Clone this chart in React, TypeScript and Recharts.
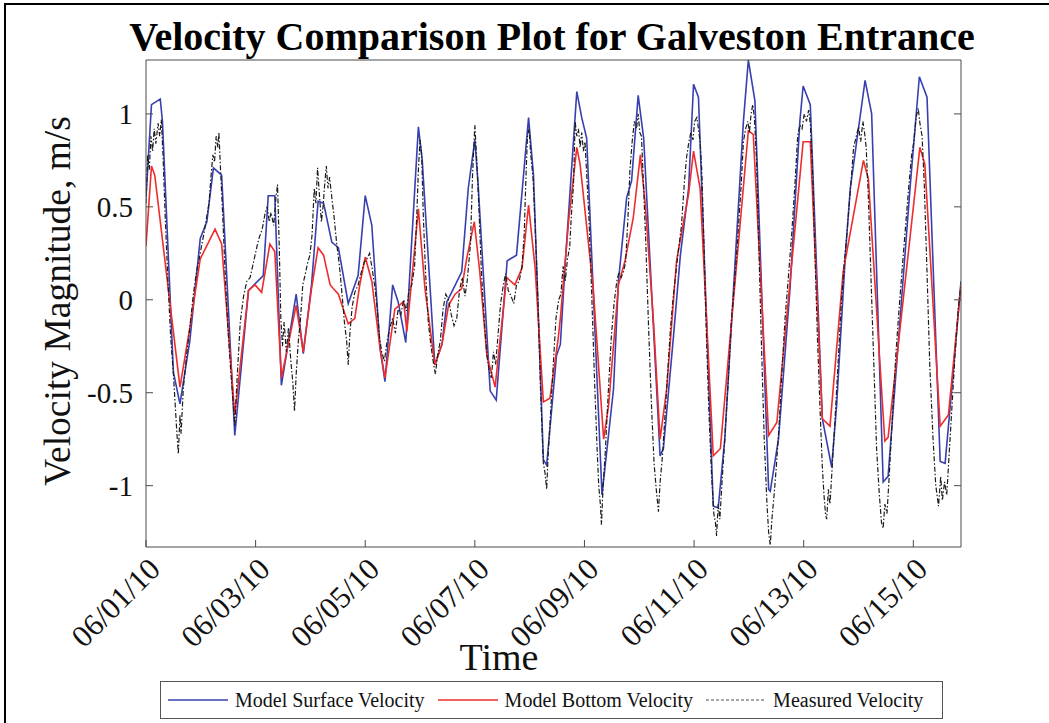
import React from 'react';
import { LineChart, Line, XAxis, YAxis, Legend } from 'recharts';

// time axis: days since 06/01/10 00:00
const dayTicks = [0, 2, 4, 6, 8, 10, 12, 14];
const dayTickLabels = ['06/01/10', '06/03/10', '06/05/10', '06/07/10', '06/09/10', '06/11/10', '06/13/10', '06/15/10'];
const velocityTicks = [-1, -0.5, 0, 0.5, 1];
const velocityTickLabels = ['-1', '-0.5', '0', '0.5', '1'];

const seriesNames = ['Model Surface Velocity', 'Model Bottom Velocity', 'Measured Velocity'];

// [day, m/s]
const surfaceVelocity: [number, number][] = [
  [0, 0.55], [0.1, 1.05], [0.26, 1.08], [0.3, 0.96], [0.5, -0.39], [0.62, -0.56], [0.8, -0.22],
  [0.99, 0.33], [1.11, 0.42], [1.23, 0.71], [1.38, 0.67], [1.62, -0.73], [1.87, 0.05], [2.14, 0.13],
  [2.23, 0.56], [2.35, 0.56], [2.47, -0.46], [2.74, 0.03], [2.87, -0.29], [3.02, 0.08], [3.14, 0.53],
  [3.24, 0.52], [3.39, 0.31], [3.51, 0.28], [3.69, -0.02], [3.87, 0.13], [4.0, 0.56], [4.12, 0.4],
  [4.27, -0.26], [4.36, -0.44], [4.5, 0.08], [4.6, -0.01], [4.74, -0.23], [4.97, 0.93], [5.04, 0.75],
  [5.27, -0.35], [5.4, -0.24], [5.49, -0.01], [5.61, 0.06], [5.76, 0.15], [5.88, 0.6], [6.0, 0.86],
  [6.06, 0.62], [6.28, -0.49], [6.39, -0.54], [6.59, 0.21], [6.76, 0.24], [6.98, 0.98], [7.07, 0.67],
  [7.25, -0.86], [7.31, -0.89], [7.49, -0.3], [7.56, -0.24], [7.65, 0.2], [7.86, 1.12], [7.95, 0.98],
  [8.04, 0.87], [8.32, -1.05], [8.53, -0.48], [8.62, 0.1], [8.77, 0.55], [8.86, 0.64], [8.98, 1.1],
  [9.08, 0.87], [9.38, -0.84], [9.44, -0.8], [9.62, -0.21], [9.75, 0.24], [9.9, 0.6], [9.99, 1.16],
  [10.08, 1.09], [10.35, -1.11], [10.44, -1.12], [10.56, -0.75], [10.72, 0.06], [10.9, 0.96],
  [10.99, 1.29], [11.11, 1.07], [11.36, -1.02], [11.39, -1.03], [11.54, -0.75], [11.75, 0.06],
  [11.93, 0.96], [11.99, 1.15], [12.12, 1.05], [12.34, -0.64], [12.51, -0.9], [12.6, -0.57],
  [12.76, 0.24], [12.85, 0.6], [13.12, 1.18], [13.24, 1.0], [13.45, -0.98], [13.54, -0.95],
  [13.94, 0.6], [14.11, 1.2], [14.25, 1.09], [14.49, -0.87], [14.58, -0.88], [14.71, -0.45],
  [14.87, 0.1],
];

const bottomVelocity: [number, number][] = [
  [0, 0.29], [0.1, 0.72], [0.16, 0.67], [0.62, -0.47], [0.8, -0.15], [0.99, 0.22], [1.26, 0.38],
  [1.38, 0.3], [1.62, -0.62], [1.87, 0.05], [1.99, 0.08], [2.11, 0.04], [2.26, 0.3], [2.35, 0.26],
  [2.47, -0.42], [2.74, -0.03], [2.87, -0.28], [3.02, 0.06], [3.14, 0.28], [3.24, 0.24], [3.36, 0.08],
  [3.51, 0.03], [3.69, -0.13], [3.81, -0.1], [3.9, 0.08], [4.0, 0.23], [4.12, 0.1], [4.27, -0.26],
  [4.36, -0.42], [4.54, -0.05], [4.7, -0.01], [4.76, -0.17], [4.97, 0.49], [5.09, 0.06], [5.27, -0.35],
  [5.4, -0.24], [5.52, -0.03], [5.64, 0.03], [5.76, 0.06], [5.85, 0.22], [5.99, 0.42], [6.09, 0.15],
  [6.22, -0.3], [6.37, -0.47], [6.58, 0.12], [6.73, 0.08], [6.86, 0.17], [6.98, 0.51], [7.1, 0.17],
  [7.25, -0.55], [7.37, -0.53], [7.52, -0.21], [7.56, -0.1], [7.71, 0.42], [7.86, 0.82], [7.92, 0.73],
  [8.16, 0.06], [8.35, -0.75], [8.44, -0.57], [8.62, 0.08], [8.74, 0.21], [8.89, 0.44], [9.02, 0.78],
  [9.11, 0.51], [9.26, -0.12], [9.38, -0.75], [9.5, -0.48], [9.68, 0.21], [9.9, 0.57], [9.99, 0.8],
  [10.11, 0.6], [10.35, -0.84], [10.48, -0.8], [10.99, 0.91], [11.08, 0.89], [11.36, -0.73],
  [11.51, -0.66], [11.99, 0.85], [12.12, 0.85], [12.34, -0.64], [12.48, -0.68], [12.72, 0.15],
  [13.09, 0.75], [13.18, 0.65], [13.48, -0.76], [13.54, -0.74], [14.12, 0.82], [14.21, 0.73],
  [14.49, -0.68], [14.64, -0.62], [14.87, 0.08],
];

const measuredVelocity: [number, number][] = [
  [0, 0.52], [0.03, 0.78], [0.06, 0.7], [0.09, 0.88], [0.12, 0.8], [0.15, 0.92], [0.18, 0.84],
  [0.22, 0.95], [0.25, 0.88], [0.28, 0.97], [0.31, 0.78], [0.35, 0.45], [0.4, 0.1], [0.45, -0.2],
  [0.5, -0.4], [0.53, -0.55], [0.56, -0.7], [0.59, -0.83], [0.62, -0.62], [0.64, -0.72], [0.68, -0.48],
  [0.74, -0.3], [0.8, -0.15], [0.86, 0.02], [0.92, 0.15], [0.97, 0.22], [1.02, 0.3], [1.06, 0.36],
  [1.11, 0.45], [1.15, 0.52], [1.19, 0.68], [1.22, 0.78], [1.25, 0.74], [1.28, 0.88], [1.31, 0.82],
  [1.33, 0.9], [1.36, 0.7], [1.4, 0.45], [1.45, 0.1], [1.5, -0.18], [1.55, -0.4], [1.59, -0.55],
  [1.62, -0.68], [1.64, -0.55], [1.67, -0.38], [1.72, -0.12], [1.78, 0.02], [1.84, 0.1], [1.9, 0.12],
  [1.96, 0.2], [2.02, 0.28], [2.06, 0.33], [2.12, 0.38], [2.17, 0.46], [2.21, 0.5], [2.25, 0.42],
  [2.28, 0.47], [2.33, 0.4], [2.37, 0.55], [2.4, 0.62], [2.43, 0.3], [2.46, -0.1], [2.49, -0.25],
  [2.52, -0.12], [2.56, -0.28], [2.6, -0.15], [2.64, -0.32], [2.68, -0.45], [2.71, -0.6], [2.74, -0.4],
  [2.78, -0.22], [2.82, -0.1], [2.86, 0.08], [2.9, 0.13], [2.95, 0.2], [2.99, 0.24], [3.03, 0.35],
  [3.07, 0.6], [3.1, 0.52], [3.13, 0.71], [3.16, 0.58], [3.2, 0.42], [3.23, 0.5], [3.26, 0.62],
  [3.29, 0.72], [3.32, 0.6], [3.35, 0.66], [3.39, 0.55], [3.43, 0.45], [3.48, 0.3], [3.53, 0.18],
  [3.58, 0.02], [3.62, -0.12], [3.66, -0.22], [3.69, -0.35], [3.72, -0.18], [3.76, -0.04], [3.81, 0.04],
  [3.87, 0.08], [3.93, 0.15], [3.98, 0.2], [4.03, 0.22], [4.08, 0.25], [4.13, 0.16], [4.18, 0.06],
  [4.22, -0.05], [4.26, -0.2], [4.3, -0.28], [4.35, -0.33], [4.4, -0.22], [4.45, -0.15], [4.5, -0.1],
  [4.55, -0.18], [4.6, -0.05], [4.65, -0.08], [4.7, 0.0], [4.75, -0.06], [4.8, 0.05], [4.85, 0.08],
  [4.9, 0.18], [4.94, 0.45], [4.97, 0.7], [5.0, 0.86], [5.03, 0.78], [5.06, 0.45], [5.1, 0.15],
  [5.15, -0.12], [5.2, -0.25], [5.25, -0.35], [5.28, -0.4], [5.32, -0.3], [5.37, -0.22], [5.42, -0.05],
  [5.47, 0.03], [5.52, 0.0], [5.57, -0.08], [5.62, -0.14], [5.67, -0.1], [5.72, 0.05], [5.77, 0.12],
  [5.82, 0.02], [5.86, 0.1], [5.92, 0.3], [5.96, 0.69], [6.0, 0.94], [6.04, 0.72], [6.08, 0.45],
  [6.12, 0.15], [6.17, -0.1], [6.22, -0.3], [6.26, -0.38], [6.3, -0.42], [6.34, -0.28], [6.38, -0.35],
  [6.42, -0.2], [6.47, -0.02], [6.52, 0.08], [6.56, 0.14], [6.61, 0.05], [6.66, 0.02], [6.71, -0.02],
  [6.76, 0.08], [6.81, 0.1], [6.86, 0.18], [6.9, 0.35], [6.93, 0.64], [6.96, 0.88], [6.99, 0.92],
  [7.02, 0.78], [7.06, 0.66], [7.1, 0.4], [7.15, 0.0], [7.2, -0.5], [7.25, -0.88], [7.28, -0.93],
  [7.31, -1.02], [7.34, -0.82], [7.38, -0.62], [7.43, -0.35], [7.48, -0.1], [7.53, 0.0], [7.57, 0.03],
  [7.61, 0.18], [7.65, 0.1], [7.69, 0.22], [7.73, 0.28], [7.76, 0.45], [7.8, 0.62], [7.83, 0.96],
  [7.86, 0.88], [7.89, 0.92], [7.92, 0.82], [7.95, 0.9], [7.98, 0.8], [8.01, 0.85], [8.04, 0.68],
  [8.08, 0.45], [8.13, 0.05], [8.18, -0.4], [8.23, -0.8], [8.26, -1.0], [8.29, -1.1], [8.31, -1.21],
  [8.34, -1.0], [8.38, -0.82], [8.43, -0.52], [8.49, -0.2], [8.54, -0.02], [8.59, 0.1], [8.63, 0.15],
  [8.67, 0.12], [8.71, 0.15], [8.75, 0.2], [8.79, 0.42], [8.83, 0.7], [8.87, 0.85], [8.91, 0.96],
  [8.95, 0.92], [8.98, 1.0], [9.01, 0.9], [9.04, 0.88], [9.08, 0.6], [9.12, 0.3], [9.17, -0.15],
  [9.22, -0.55], [9.27, -0.88], [9.31, -1.02], [9.35, -1.14], [9.38, -0.98], [9.42, -0.85],
  [9.47, -0.62], [9.52, -0.38], [9.57, -0.15], [9.62, 0.02], [9.67, 0.15], [9.72, 0.28], [9.77, 0.4],
  [9.82, 0.62], [9.86, 0.76], [9.9, 0.84], [9.94, 0.9], [9.98, 0.86], [10.01, 0.96], [10.05, 0.98],
  [10.08, 0.92], [10.11, 0.85], [10.14, 0.7], [10.18, 0.3], [10.22, -0.15], [10.27, -0.6],
  [10.32, -0.95], [10.36, -1.15], [10.39, -1.2], [10.41, -1.27], [10.44, -1.1], [10.47, -1.18],
  [10.51, -0.98], [10.56, -0.75], [10.62, -0.45], [10.68, -0.12], [10.74, 0.1], [10.8, 0.35],
  [10.86, 0.62], [10.9, 0.85], [10.94, 0.92], [10.98, 0.96], [11.01, 0.9], [11.04, 1.0], [11.07, 1.05],
  [11.1, 0.98], [11.14, 0.75], [11.18, 0.3], [11.23, -0.25], [11.28, -0.75], [11.33, -1.1],
  [11.36, -1.25], [11.39, -1.32], [11.42, -1.18], [11.46, -1.05], [11.5, -0.9], [11.55, -0.68],
  [11.6, -0.4], [11.66, -0.1], [11.72, 0.12], [11.78, 0.35], [11.84, 0.62], [11.89, 0.88],
  [11.93, 0.94], [11.97, 0.92], [12.01, 1.0], [12.05, 0.96], [12.09, 1.02], [12.12, 0.95],
  [12.16, 0.7], [12.2, 0.3], [12.25, -0.2], [12.3, -0.6], [12.34, -0.9], [12.37, -1.05], [12.4, -1.16],
  [12.42, -1.18], [12.45, -1.02], [12.48, -1.1], [12.52, -0.9], [12.57, -0.65], [12.62, -0.38],
  [12.68, -0.05], [12.74, 0.2], [12.8, 0.4], [12.86, 0.62], [12.91, 0.82], [12.96, 0.88], [13.0, 0.93],
  [13.04, 0.85], [13.08, 0.96], [13.11, 0.9], [13.14, 0.82], [13.18, 0.55], [13.23, 0.1],
  [13.28, -0.35], [13.33, -0.8], [13.38, -1.05], [13.42, -1.2], [13.45, -1.23], [13.48, -1.1],
  [13.52, -1.15], [13.56, -0.95], [13.62, -0.62], [13.68, -0.3], [13.74, -0.05], [13.8, 0.18],
  [13.86, 0.4], [13.92, 0.62], [13.97, 0.78], [14.01, 0.85], [14.05, 0.98], [14.09, 1.03], [14.12, 0.95],
  [14.16, 0.88], [14.2, 0.62], [14.25, 0.15], [14.3, -0.35], [14.36, -0.75], [14.41, -1.0],
  [14.46, -1.11], [14.5, -0.95], [14.53, -1.08], [14.57, -0.98], [14.61, -1.05], [14.65, -0.85],
  [14.7, -0.6], [14.76, -0.3], [14.82, -0.05], [14.87, 0.08],
];

const SERIF = "'Liberation Serif', 'Times New Roman', serif";
const SURFACE_COLOR = '#3840b0';
const BOTTOM_COLOR = '#ef2c2c';
const MEASURED_COLOR = '#1c1c1c';
const AXIS_COLOR = '#4a4a4a';

const toRows = (pts: [number, number][]) => pts.map(([day, v]) => ({ day, v }));

// rotated date labels, right end tucked under the tick
const DateTick = (props: any) => {
  const { x, y, payload } = props;
  const label = dayTickLabels[dayTicks.indexOf(payload.value)];
  const tx = x + 16;
  return (
    <text x={tx} y={y} transform={`rotate(-45, ${tx}, ${y})`} textAnchor="end"
      fontFamily={SERIF} fontSize={31} fill="#111">
      {label}
    </text>
  );
};

const VelocityTick = (props: any) => {
  const { x, y, payload } = props;
  const label = velocityTickLabels[velocityTicks.indexOf(payload.value)];
  return (
    <text x={x} y={y} dy="0.34em" textAnchor="end" fontFamily={SERIF} fontSize={29} fill="#111">
      {label}
    </text>
  );
};

const NoTick = () => <g />;

const legendItems = [
  { name: seriesNames[0], color: SURFACE_COLOR, dash: undefined as string | undefined },
  { name: seriesNames[1], color: BOTTOM_COLOR, dash: undefined as string | undefined },
  { name: seriesNames[2], color: '#8a8a8a', dash: '3 2' },
];

const renderLegend = () => (
  <div style={{
    boxSizing: 'border-box', width: '100%', height: '100%', border: '1.5px solid #555',
    display: 'flex', alignItems: 'center', paddingLeft: 7, fontFamily: SERIF, fontSize: 20, color: '#111',
    background: '#fff',
  }}>
    {legendItems.map((item) => (
      <div key={item.name} style={{ display: 'flex', alignItems: 'center', marginRight: 13 }}>
        <svg width={60} height={10} style={{ marginRight: 7 }}>
          <line x1={0} y1={5} x2={60} y2={5} stroke={item.color} strokeWidth={1.5} strokeDasharray={item.dash} />
        </svg>
        <span style={{ whiteSpace: 'nowrap' }}>{item.name}</span>
      </div>
    ))}
  </div>
);

export default function App() {
  return (
    <div style={{ position: 'absolute', left: 0, top: 0, width: 1049, height: 723, background: '#fff', overflow: 'hidden' }}>
      <div style={{ position: 'absolute', left: 4, top: 3, width: 1060, height: 740, borderTop: '2px solid #000', borderLeft: '2px solid #000' }} />
      <LineChart width={1049} height={723} margin={{ top: 59, right: 87, bottom: 146, left: 116 }}>
        <XAxis dataKey="day" type="number" domain={[0, 14.87]} ticks={dayTicks} allowDataOverflow
          height={30} tickSize={-7} tickMargin={31} tick={<DateTick />} stroke={AXIS_COLOR} interval={0} />
        <XAxis xAxisId="top" orientation="top" type="number" domain={[0, 14.87]} ticks={dayTicks}
          allowDataOverflow height={1} tickSize={-7} tick={<NoTick />} stroke={AXIS_COLOR} interval={0} />
        <YAxis type="number" domain={[-1.33, 1.29]} ticks={velocityTicks} allowDataOverflow width={30}
          tickSize={-7} tickMargin={20} tick={<VelocityTick />} stroke={AXIS_COLOR} interval={0} />
        <YAxis yAxisId="right" orientation="right" type="number" domain={[-1.33, 1.29]} ticks={velocityTicks}
          allowDataOverflow width={1} tickSize={-7} tick={<NoTick />} stroke={AXIS_COLOR} interval={0} />
        <Line data={toRows(surfaceVelocity)} dataKey="v" name={seriesNames[0]} type="linear" stroke={SURFACE_COLOR}
          strokeWidth={1.6} dot={false} isAnimationActive={false} />
        <Line data={toRows(bottomVelocity)} dataKey="v" name={seriesNames[1]} type="linear" stroke={BOTTOM_COLOR}
          strokeWidth={1.6} dot={false} isAnimationActive={false} />
        <Line data={toRows(measuredVelocity)} dataKey="v" name={seriesNames[2]} type="linear" stroke={MEASURED_COLOR}
          strokeWidth={1.2} strokeDasharray="5 2 1.5 2" dot={false} isAnimationActive={false} />
        <Legend verticalAlign="middle" align="center" layout="horizontal" content={renderLegend}
          wrapperStyle={{ left: 160, top: 681, width: 783, height: 38 }} />
        <text x={552} y={50} textAnchor="middle" fontFamily={SERIF} fontWeight="bold" fontSize={40} fill="#000">
          Velocity Comparison Plot for Galveston Entrance
        </text>
        <text x={70} y={301} transform="rotate(-90, 70, 301)" textAnchor="middle" fontFamily={SERIF}
          fontSize={37.5} fill="#111">
          Velocity Magnitude, m/s
        </text>
        <text x={499} y={670} textAnchor="middle" fontFamily={SERIF} fontSize={38} fill="#111">
          Time
        </text>
      </LineChart>
    </div>
  );
}
